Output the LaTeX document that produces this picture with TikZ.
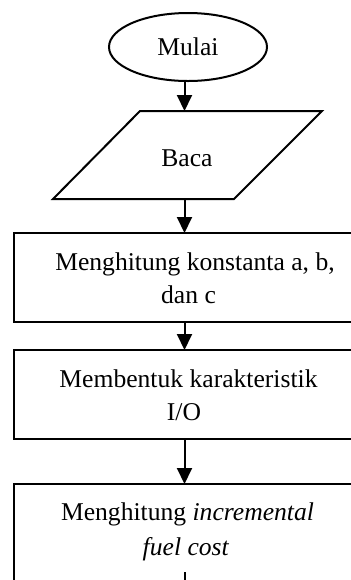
\documentclass[tikz,border=0pt]{standalone}
\usepackage{fontspec}
\setmainfont{Liberation Serif}
\usetikzlibrary{arrows.meta,shapes.geometric}
\begin{document}
\begin{tikzpicture}[x=0.5pt,y=-0.5pt,line width=1pt,
  boxnode/.style={draw,rectangle,inner sep=0pt,outer sep=0pt,minimum width=177pt},
  txt/.style={anchor=base,inner sep=0pt,font=\fontsize{12.8}{16}\selectfont},
  arr/.style={-{Triangle[width=7.5pt,length=8pt]}}]
\useasboundingbox (0,0) rectangle (351,580);
\clip (0,0) rectangle (351,580);
% terminal
\node[draw,ellipse,inner sep=0pt,outer sep=0pt,minimum width=79pt,minimum height=34pt,
      font=\fontsize{12.8}{16}\selectfont] (start) at (188,47) {Mulai};
% input parallelogram
\draw (140,111) coordinate (ptl) -- (322,111) -- (234,199) -- (53,199) -- cycle;
\node[txt] (baca) at (187,166) {Baca};
\coordinate (ax) at (184.5,0);
\coordinate (ptop) at (184.5,111);
\coordinate (pbot) at (184.5,199);
% process boxes
\node[boxnode,minimum height=44.5pt] (b1) at (191,277.5) {};
\node[txt] (t1a) at (195,270) {Menghitung konstanta a, b,};
\node[txt] (t1b) at (188.5,303) {dan c};
\node[boxnode,minimum height=44.5pt] (b2) at (191,394.5) {};
\node[txt] (t2a) at (188.5,387) {Membentuk karakteristik};
\node[txt] (t2b) at (184,420) {I/O};
\node[boxnode,minimum height=70pt] (b3) at (191,554) {};
\node[txt] (t3a) at (187.5,520) {Menghitung \textit{incremental}};
\node[txt] (t3b) at (186,555) {\textit{fuel cost}};
% connectors
\draw[arr] (start.south -| ax) -- (ptop);
\draw[arr] (pbot) -- (b1.north -| ax);
\draw[arr] (b1.south -| ax) -- (b2.north -| ax);
\draw[arr] (b2.south -| ax) -- (b3.north -| ax);
\coordinate (outa) at (185,572);
\coordinate (outb) at (185,600);
\draw (outa) -- (outb);
\end{tikzpicture}
\end{document}
